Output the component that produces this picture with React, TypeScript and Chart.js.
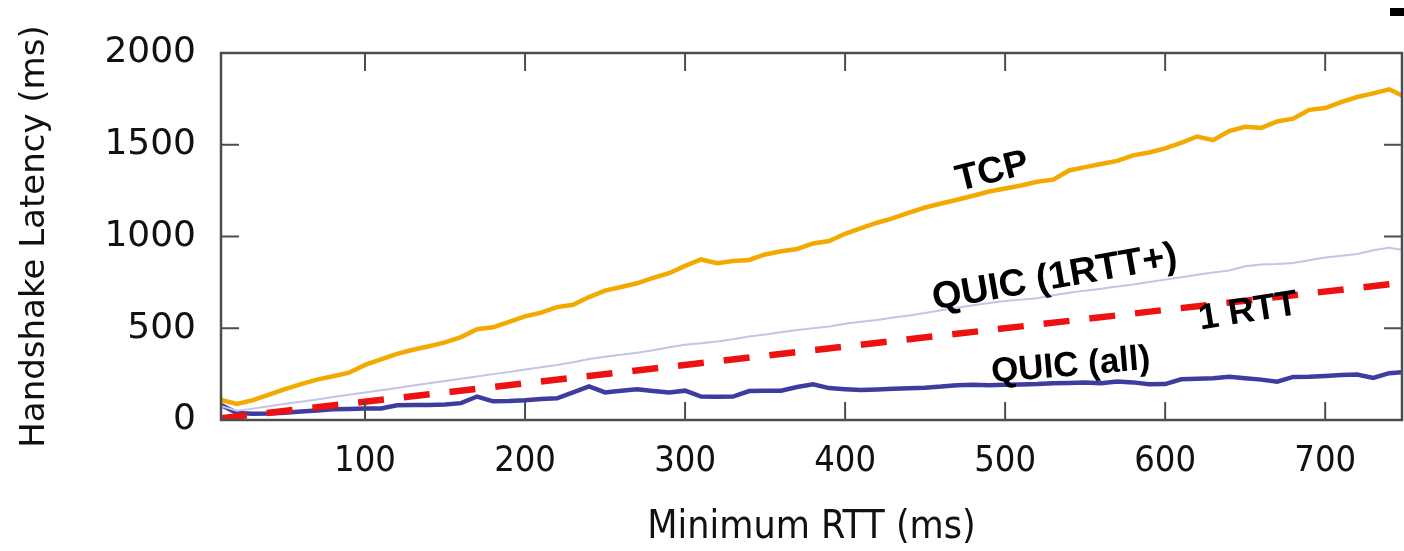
import React, { useEffect, useRef } from 'react';
import { Chart, registerables } from 'chart.js';

Chart.register(...registerables);

// Minimum RTT (ms)
const rttMs = [
  10, 20, 30, 40, 50, 60, 70, 80, 90, 100,
  110, 120, 130, 140, 150, 160, 170, 180, 190, 200,
  210, 220, 230, 240, 250, 260, 270, 280, 290, 300,
  310, 320, 330, 340, 350, 360, 370, 380, 390, 400,
  410, 420, 430, 440, 450, 460, 470, 480, 490, 500,
  510, 520, 530, 540, 550, 560, 570, 580, 590, 600,
  610, 620, 630, 640, 650, 660, 670, 680, 690, 700,
  710, 720, 730, 740, 750,
];

// Handshake latency (ms)
const tcpLatency = [
  109, 88, 108, 138, 168, 195, 220, 238, 258, 300,
  330, 360, 383, 402, 423, 452, 495, 505, 535, 565,
  585, 615, 628, 670, 705, 725, 745, 775, 800, 840,
  875, 855, 866, 872, 902, 920, 932, 962, 975, 1015,
  1045, 1075, 1100, 1130, 1158, 1180, 1200, 1222, 1245, 1262,
  1278, 1298, 1310, 1360, 1378, 1395, 1412, 1442, 1458, 1480,
  1510, 1545, 1525, 1575, 1598, 1592, 1627, 1642, 1690, 1700,
  1732, 1760, 1780, 1802, 1760,
];

const quic1RttPlus = [
  75, 50, 62, 75, 88, 100, 112, 125, 138, 150,
  162, 175, 188, 200, 212, 225, 237, 250, 262, 275,
  288, 300, 315, 332, 345, 355, 367, 380, 397, 410,
  418, 428, 440, 455, 466, 478, 490, 500, 510, 525,
  535, 545, 558, 570, 583, 598, 612, 625, 638, 648,
  656, 663, 680, 693, 705, 715, 728, 738, 752, 765,
  778, 792, 804, 815, 838, 848, 850, 855, 870, 885,
  895, 905, 925, 938, 925,
];

const quicAll = [
  82, 38, 34, 35, 40, 46, 52, 58, 60, 62,
  63, 80, 82, 82, 85, 92, 128, 102, 103, 108,
  115, 118, 150, 183, 150, 160, 167, 158, 150, 160,
  128, 127, 128, 158, 160, 160, 180, 195, 174, 168,
  163, 166, 170, 173, 176, 182, 190, 192, 190, 192,
  194, 196, 200, 202, 204, 200, 210, 205, 195, 196,
  222, 225, 228, 236, 228, 220, 209, 235, 236, 240,
  245, 248, 229, 255, 262,
];

// 1 RTT reference line (latency equals RTT)
const oneRttX = [10, 750];
const oneRttY = [10, 750];

const xTickValues = [100, 200, 300, 400, 500, 600, 700];
const yTickValues = [0, 500, 1000, 1500, 2000];

const curveLabels = [
  { text: 'TCP', x: 492, y: 1351, angle: -14, size: 37 },
  { text: 'QUIC (1RTT+)', x: 531, y: 774, angle: -10, size: 38 },
  { text: '1 RTT', x: 652, y: 589, angle: -9, size: 36 },
  { text: 'QUIC (all)', x: 541, y: 294, angle: -5, size: 35 },
];

const toPoints = (xs: number[], ys: number[]) => xs.map((x, i) => ({ x, y: ys[i] }));

const framePlugin = {
  id: 'framePlugin',
  afterDatasetsDraw(chart: any) {
    const { ctx, chartArea } = chart;
    const { left, right, top, bottom } = chartArea;
    const xs = chart.scales.x;
    const ys = chart.scales.y;
    ctx.save();
    ctx.strokeStyle = '#4d4d4d';
    ctx.lineWidth = 2.5;
    ctx.strokeRect(left, top, right - left, bottom - top);
    ctx.lineWidth = 2;
    const tl = 18;
    const seg = (x1: number, y1: number, x2: number, y2: number) => {
      ctx.beginPath();
      ctx.moveTo(x1, y1);
      ctx.lineTo(x2, y2);
      ctx.stroke();
    };
    xTickValues.forEach((v) => {
      const px = xs.getPixelForValue(v);
      seg(px, top, px, top + tl);
      seg(px, bottom, px, bottom - tl);
    });
    yTickValues.forEach((v) => {
      const py = ys.getPixelForValue(v);
      seg(left, py, left + tl, py);
      seg(right, py, right - tl, py);
    });

    ctx.fillStyle = '#000';
    ctx.textAlign = 'center';
    ctx.textBaseline = 'middle';
    curveLabels.forEach((l) => {
      const px = xs.getPixelForValue(l.x);
      const py = ys.getPixelForValue(l.y);
      ctx.save();
      ctx.font = `bold ${l.size}px "Liberation Sans", Arial, sans-serif`;
      ctx.translate(px, py);
      ctx.rotate((l.angle * Math.PI) / 180);
      ctx.fillText(l.text, 0, 0);
      ctx.restore();
    });

    // clipped legend sample at the top-right corner of the figure
    ctx.fillStyle = '#000';
    ctx.fillRect(chart.width - 14, 8, 14, 8);
    ctx.restore();
  },
};

export default function App() {
  const canvasRef = useRef<HTMLCanvasElement | null>(null);

  useEffect(() => {
    if (!canvasRef.current) return;
    const chart = new Chart(canvasRef.current, {
      type: 'line',
      data: {
        datasets: [
          {
            label: 'TCP',
            data: toPoints(rttMs, tcpLatency),
            borderColor: '#f2a900',
            borderWidth: 4.5,
            pointRadius: 0,
            tension: 0,
          },
          {
            label: 'QUIC (1RTT+)',
            data: toPoints(rttMs, quic1RttPlus),
            borderColor: '#c4c4e6',
            borderWidth: 2,
            pointRadius: 0,
            tension: 0,
          },
          {
            label: '1 RTT',
            data: toPoints(oneRttX, oneRttY),
            borderColor: '#ee1111',
            borderWidth: 6.5,
            borderDash: [26, 20],
            pointRadius: 0,
            tension: 0,
          },
          {
            label: 'QUIC (all)',
            data: toPoints(rttMs, quicAll),
            borderColor: '#3e3c9e',
            borderWidth: 4.5,
            pointRadius: 0,
            tension: 0,
          },
        ],
      },
      options: {
        animation: false,
        responsive: true,
        maintainAspectRatio: false,
        layout: { padding: { top: 53, right: 2, bottom: 0, left: 0 } },
        plugins: {
          legend: { display: false },
          tooltip: { enabled: false },
        },
        scales: {
          x: {
            type: 'linear',
            min: 10,
            max: 748,
            grid: { display: false, drawTicks: false },
            border: { display: false },
            afterBuildTicks: (s: any) => {
              s.ticks = xTickValues.map((v) => ({ value: v }));
            },
            afterFit: (s: any) => {
              s.height = 131;
            },
            ticks: {
              padding: 20,
              color: '#111',
              font: { family: '"DejaVu Sans Condensed", "DejaVu Sans", sans-serif', size: 36 },
              maxRotation: 0,
              autoSkip: false,
              callback: (v: any) => String(v),
            },
            title: {
              display: true,
              text: 'Minimum RTT (ms)',
              color: '#111',
              font: { family: '"DejaVu Sans Condensed", "DejaVu Sans", sans-serif', size: 39 },
              padding: { top: 3, bottom: 0 },
            },
          },
          y: {
            type: 'linear',
            min: 0,
            max: 2000,
            grid: { display: false, drawTicks: false },
            border: { display: false },
            afterBuildTicks: (s: any) => {
              s.ticks = yTickValues.map((v) => ({ value: v }));
            },
            afterFit: (s: any) => {
              s.width = 221;
            },
            ticks: {
              padding: 25,
              color: '#111',
              font: { family: '"DejaVu Sans", sans-serif', size: 36 },
              autoSkip: false,
              callback: (v: any) => String(v),
            },
            title: {
              display: true,
              text: 'Handshake Latency (ms)',
              color: '#111',
              font: { family: '"DejaVu Sans", sans-serif', size: 34 },
              padding: { top: 15, bottom: 0 },
            },
          },
        },
      },
      plugins: [framePlugin],
    });
    return () => chart.destroy();
  }, []);

  return (
    <div style={{ position: 'absolute', left: 0, top: 0, width: 1404, height: 551, background: '#fff' }}>
      <canvas ref={canvasRef} />
    </div>
  );
}
